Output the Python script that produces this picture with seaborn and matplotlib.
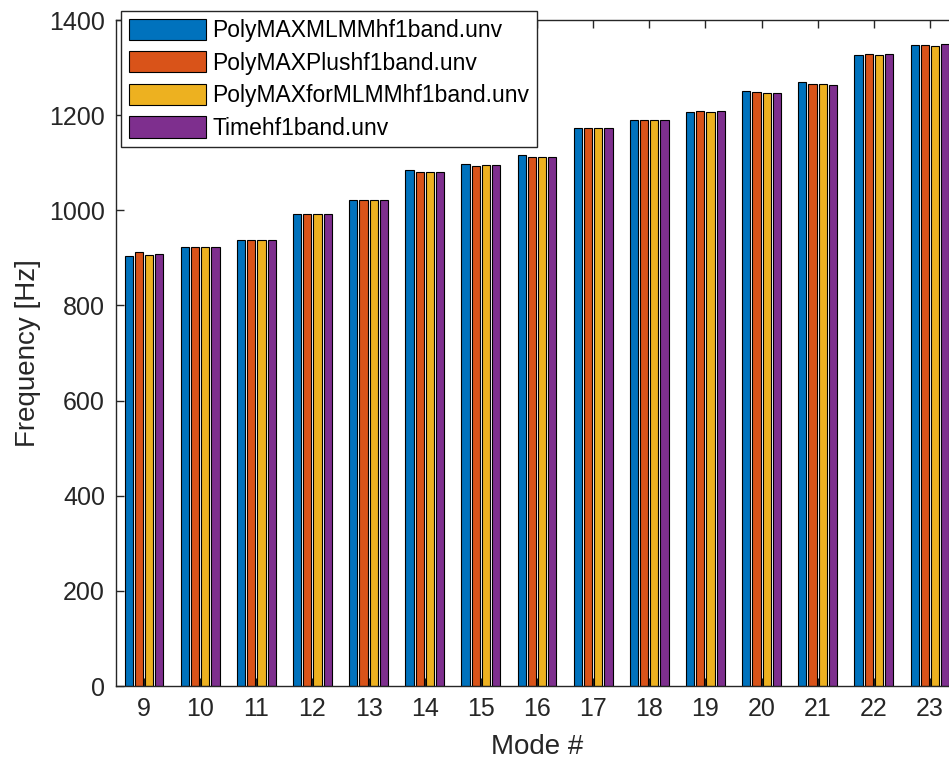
import numpy as np
import pandas as pd
import matplotlib
matplotlib.use("Agg")
import matplotlib.pyplot as plt
from matplotlib.patches import Patch
import seaborn as sns

# Identified natural frequencies per mode for each estimation file
modes = [9, 10, 11, 12, 13, 14, 15, 16, 17, 18, 19, 20, 21, 22, 23]
polymax_mlmm = [903, 923, 937, 992, 1022, 1085, 1098, 1117, 1174, 1189, 1207, 1251, 1270, 1326, 1347]
polymax_plus = [912, 922, 938, 992, 1022, 1081, 1094, 1113, 1174, 1189, 1209, 1248, 1266, 1328, 1347]
polymax_for_mlmm = [906, 922, 937, 992, 1022, 1081, 1095, 1112, 1174, 1189, 1207, 1247, 1265, 1327, 1345]
time_domain = [909, 922, 938, 992, 1022, 1081, 1095, 1113, 1174, 1190, 1208, 1247, 1264, 1328, 1349]

series_names = ["PolyMAXMLMMhf1band.unv", "PolyMAXPlushf1band.unv",
                "PolyMAXforMLMMhf1band.unv", "Timehf1band.unv"]
series_values = [polymax_mlmm, polymax_plus, polymax_for_mlmm, time_domain]
colors = ["#0072BD", "#D95319", "#EDB120", "#7E2F8E"]
yticks = [0, 200, 400, 600, 800, 1000, 1200, 1400]

df = pd.DataFrame({
    "Mode": np.tile(modes, len(series_names)),
    "Frequency": np.concatenate(series_values),
    "File": np.repeat(series_names, len(modes)),
})

sns.set_theme(style="white")
plt.rcParams["font.family"] = ["Liberation Sans", "DejaVu Sans"]
ink = "#262626"

fig = plt.figure(figsize=(9.49, 7.6), dpi=100)
ax = fig.add_axes([116 / 949, 74 / 760, 842 / 949, 666 / 760])

sns.barplot(data=df, x="Mode", y="Frequency", hue="File",
            hue_order=series_names, palette=colors, saturation=1,
            width=0.727, gap=0.2, edgecolor="black", linewidth=0.8,
            errorbar=None, legend=False, ax=ax)

ax.set_xlim(-0.5, len(modes) - 0.5)
ax.set_ylim(0, 1400)
ax.set_yticks(yticks)
ax.set_xticks(range(len(modes)))
ax.set_xticklabels([str(m) for m in modes])

for s in ax.spines.values():
    s.set_color(ink)
    s.set_linewidth(1.0)
ax.tick_params(axis="both", direction="in", length=5.5, width=1.0,
               color=ink, labelcolor=ink, labelsize=18, pad=8,
               top=True, right=True, bottom=True, left=True)

ax.set_xlabel("Mode #", fontsize=20, color=ink, labelpad=9)
ax.set_ylabel("Frequency [Hz]", fontsize=20, color=ink, labelpad=6)

handles = [Patch(facecolor=c, edgecolor="black", linewidth=0.8) for c in colors]
leg = fig.legend(handles, series_names, loc="upper left",
                 bbox_to_anchor=(121 / 949, 1 - 11 / 760), borderaxespad=0,
                 fontsize=16.5, frameon=True, fancybox=False, framealpha=1,
                 edgecolor=ink, handlelength=3.4, handleheight=1.05,
                 handletextpad=0.25, labelspacing=0.4, borderpad=0.33)
leg.get_frame().set_linewidth(1.0)
for t in leg.get_texts():
    t.set_color("black")

fig.savefig("out.png", dpi=100)
